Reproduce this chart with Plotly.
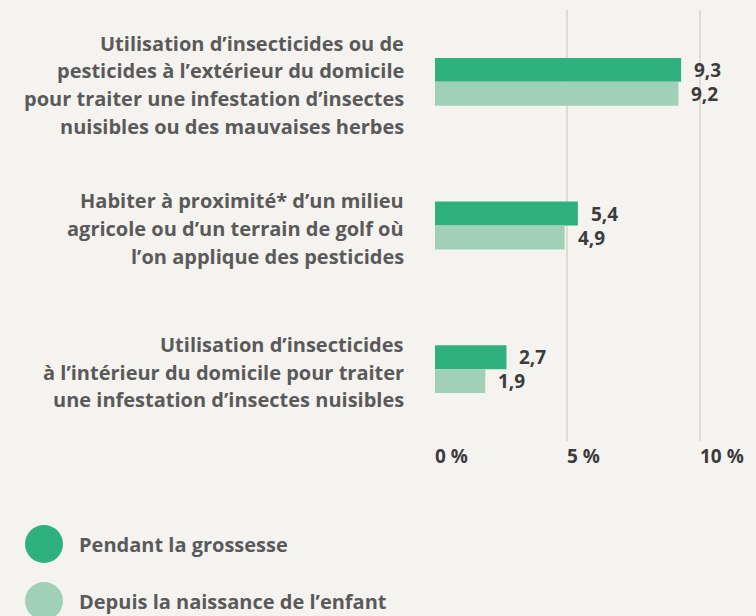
import plotly.graph_objects as go

categories = [
    ["Utilisation d’insecticides ou de", "pesticides à l’extérieur du domicile",
     "pour traiter une infestation d’insectes", "nuisibles ou des mauvaises herbes"],
    ["Habiter à proximité* d’un milieu", "agricole ou d’un terrain de golf où",
     "l’on applique des pesticides"],
    ["Utilisation d’insecticides", "à l’intérieur du domicile pour traiter",
     "une infestation d’insectes nuisibles"],
]
series_names = ["Pendant la grossesse", "Depuis la naissance de l’enfant"]
pendant = [9.3, 5.4, 2.7]
depuis = [9.2, 4.9, 1.9]
tick_vals = [0, 5, 10]
tick_text = ["0 %", "5 %", "10 %"]

colors = ["#2eb07f", "#a0d1b8"]
FONT = "Open Sans"
bg = "#f5f3f0"
label_col = "#5a5a5a"
val_col = "#3c3c3c"

cat_ids = [" ".join(c) for c in categories]

fig = go.Figure()
for name, vals, col in zip(series_names, [pendant, depuis], colors):
    fig.add_trace(go.Bar(y=cat_ids, x=vals, orientation="h", name=name,
                         marker=dict(color=col, line=dict(width=0)), showlegend=False,
                         hoverinfo="skip"))

ann = []
LS = 27.7
for cid, lines in zip(cat_ids, categories):
    n = len(lines)
    for i, ln in enumerate(lines):
        ann.append(dict(text=ln, xref="paper", x=0, xanchor="right", xshift=-29,
                        yref="y", y=cid, yanchor="middle", yshift=-(i - (n - 1) / 2) * LS - 3,
                        showarrow=False, font=dict(family=FONT, size=20, color=label_col, weight="bold")))
for k, vals in enumerate([pendant, depuis]):
    for cid, v in zip(cat_ids, vals):
        ann.append(dict(text=f"{v:.1f}".replace(".", ","), x=v, xref="x", xanchor="left", xshift=11,
                        y=cid, yref="y", yanchor="middle", yshift=12 if k == 0 else -12,
                        showarrow=False, font=dict(family=FONT, size=19, color=val_col, weight="bold")))
for tv, tt in zip(tick_vals, tick_text):
    ann.append(dict(text=tt, x=tv, xref="x", xanchor="left", xshift=-2, y=0, yref="paper",
                    yanchor="middle", yshift=-15, showarrow=False,
                    font=dict(family=FONT, size=19, color=val_col, weight="bold")))
shapes = []
for k, (name, col) in enumerate(zip(series_names, colors)):
    cy = -103 - 57 * k
    shapes.append(dict(type="circle", xref="paper", yref="paper", xsizemode="pixel", ysizemode="pixel",
                       xanchor=0, yanchor=0, x0=-410, x1=-372, y0=cy - 19, y1=cy + 19,
                       fillcolor=col, line=dict(width=0)))
    ann.append(dict(text=name, xref="paper", x=0, xanchor="left", xshift=-358,
                    yref="paper", y=0, yanchor="middle", yshift=cy, showarrow=False,
                    font=dict(family=FONT, size=20, color=label_col, weight="bold")))

fig.update_layout(
    width=756, height=616,
    margin=dict(l=435, r=0, t=10, b=175),
    paper_bgcolor=bg, plot_bgcolor=bg,
    barmode="group", bargap=0.667, bargroupgap=0,
    annotations=ann, shapes=shapes,
    xaxis=dict(range=[0, 12.13], tickvals=tick_vals, showticklabels=False,
               showgrid=True, gridcolor="#e0dcd4", gridwidth=1.5, zeroline=False, showline=False),
    yaxis=dict(autorange="reversed", showticklabels=False, showgrid=False, zeroline=False,
               showline=False),
)
fig.write_html("out.html", config={"displayModeBar": False},
               post_script="document.body.style.margin='0';")
